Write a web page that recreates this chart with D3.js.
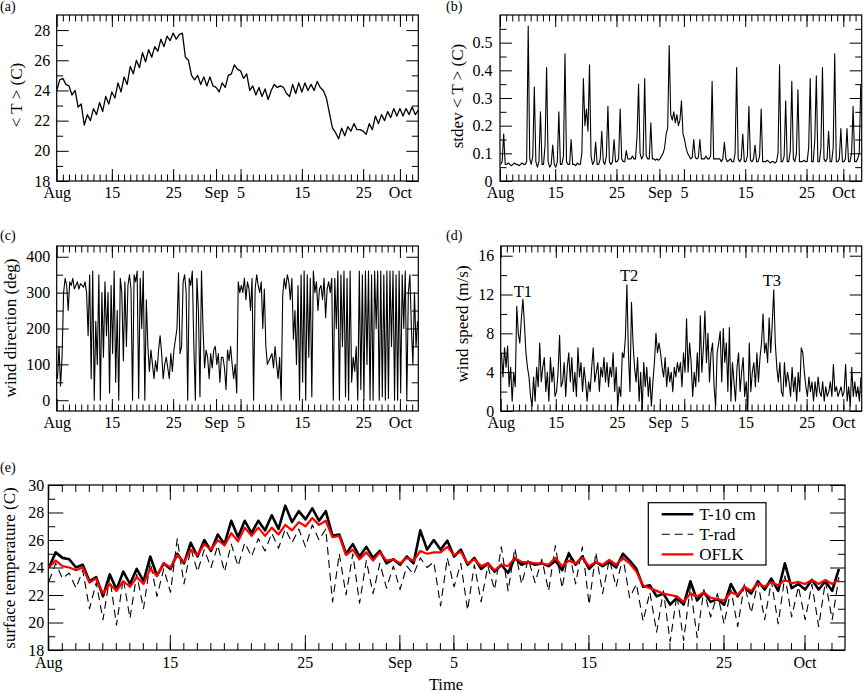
<!DOCTYPE html>
<html><head><meta charset="utf-8">
<script src="https://cdn.jsdelivr.net/npm/d3@7/dist/d3.min.js"></script>
<style>
body{margin:0;background:#fff;}
svg text{font-family:"Liberation Serif","Times New Roman",serif;}
</style></head><body>
<svg id="chart" width="863" height="693"></svg>
<script>
// ---------------- DATA ----------------
const seriesStart = "2005-08-06";       // first sample day (left edge of the time axis)
const seriesEnd   = "2005-10-04";       // right edge of the time axis
const xTickDates  = ["2005-08-06","2005-08-15","2005-08-25","2005-09-01","2005-09-05","2005-09-15","2005-09-25","2005-10-01"];
const xTickLabels = ["Aug","15","25","Sep","5","15","25","Oct"];

// (a) mean soil temperature <T>, every 12 h from the start
const meanT = [
24.0,24.7,24.8,24.4,24.3,23.7,24.0,22.9,23.1,21.7,
22.4,22.0,22.8,22.4,23.2,22.6,23.6,23.1,23.9,23.5,
24.5,23.9,24.9,24.4,25.6,25.1,26.0,25.5,26.5,25.9,
26.7,26.2,26.9,26.6,27.4,26.9,27.6,27.3,27.8,27.4,
27.7,27.8,26.2,26.0,25.0,24.7,25.0,24.4,24.9,24.3,
24.9,24.3,24.2,23.9,24.5,24.2,25.0,25.1,25.7,25.4,
25.3,24.8,25.1,24.0,24.3,23.7,24.2,23.6,24.1,23.4,
24.0,24.4,24.2,24.3,24.2,23.8,23.6,24.4,23.8,24.5,
23.9,24.5,24.0,24.4,24.0,24.6,24.2,24.0,23.5,22.5,
21.5,21.2,20.8,21.5,21.0,21.6,21.3,21.8,21.4,21.4,
21.3,21.1,21.8,21.4,22.3,21.8,22.4,22.0,22.6,22.2,
22.8,22.3,22.8,22.3,22.8,22.4,22.9,22.4,22.7];

// (b) stdev of <T>, 4 samples per day (day+0.1, +0.35, +0.6, +0.85)
const stdevT = [
.06,.07,.17,.06,  .06,.065,.06,.055, .06,.065,.06,.06, .055,.06,.065,.06,
.06,.07,.56,.08,  .06,.09,.34,.07,   .05,.07,.25,.06,  .06,.13,.41,.07,
.05,.06,.13,.06,  .05,.07,.25,.06,   .06,.09,.46,.07,  .06,.06,.15,.06,
.06,.055,.065,.06,.06,.1,.37,.2,     .26,.18,.42,.09,  .06,.07,.14,.06,
.06,.08,.18,.07,  .06,.09,.27,.07,   .06,.07,.15,.07,  .07,.08,.26,.08,
.07,.07,.11,.08,  .08,.08,.09,.08,   .08,.16,.35,.1,   .08,.09,.37,.09,
.08,.08,.21,.08,  .08,.075,.08,.075, .08,.09,.1,.12,   .17,.19,.49,.24,
.22,.25,.21,.24,  .2,.22,.29,.17,    .15,.12,.1,.09,   .08,.085,.15,.085,
.08,.085,.15,.08, .08,.08,.09,.08,   .08,.09,.36,.08,  .08,.08,.08,.08,
.07,.08,.14,.08,  .07,.075,.08,.07,  .07,.1,.41,.08,   .07,.08,.17,.07,
.07,.09,.27,.075, .07,.08,.13,.07,   .07,.09,.26,.07,  .07,.07,.075,.07,
.065,.07,.07,.065,.07,.1,.42,.07,    .07,.09,.29,.07,  .07,.11,.36,.08,
.07,.1,.33,.07,   .07,.07,.075,.07,  .07,.12,.37,.07,  .07,.15,.38,.07,
.07,.12,.41,.08,  .07,.08,.18,.07,   .07,.12,.46,.07,  .07,.08,.19,.07,
.07,.08,.19,.07,  .07,.1,.27,.07,    .07,.08,.1,.35];

// (c) wind direction (deg), 4 samples per day (day+0.125 ...)
const windDir = [
60,150,40,120,   300,340,320,250, 330,320,340,310, 320,330,310,325,
320,315,330,300, 180,350,60,360,  0,220,100,350,   0,300,120,330,
180,300,20,320,  130,360,50,250,  0,340,300,110,   330,150,320,350,
310,0,350,330,   360,5,340,200,   360,0,280,150,   80,140,100,60,
110,80,140,180,  130,60,100,120,  90,60,130,80,    140,170,200,355,
130,150,330,350, 300,0,340,320,   360,150,0,340,   250,10,360,200,
90,140,120,60,   130,90,140,150,  100,130,50,120,  120,90,30,140,
110,150,100,60,  100,20,330,300,  320,300,340,280, 330,310,250,340,
0,310,350,320,   300,330,200,310, 150,100,110,120, 130,90,150,100,
60,120,0,290,    340,310,350,330, 280,340,170,250, 100,320,0,350,
50,360,0,350,    120,340,10,360,  300,330,250,310, 320,280,340,230,
310,330,300,340, 0,340,200,360,   0,350,150,360,   10,340,0,360,
50,120,80,150,   0,360,30,350,    0,360,100,360,   0,350,0,360,
200,360,0,360,   10,350,0,360,    5,360,150,360,   0,350,0,360,
20,350,200,360,  0,300,350,200,   100,300,150,220];

// (d) wind speed (m/s), 4 samples per day (day+0.125 ...)
const windSpd = [
6,3.5,6.5,4.5,   6.7,2.5,4.5,1,   4,2.5,10.8,8,    7,9.5,11.5,9,
6,4.5,3.5,1.5,   0.5,3.5,1,4.5,   2.5,7,3,4.5,     5.5,2,4,1,
5.5,3,4.5,1.5,   2,4,7.8,2.5,     3,5,1.5,4.5,     6,3,5.5,2,
4,1.5,6.5,3.5,   5,2,4.5,3,       1,3,2,4.5,       6.5,3,4,5,
2,4.5,3.5,5.5,   3,5,2.5,4.5,     3.5,6,2,4.5,     0.5,2.5,1.5,6,
5.5,7.5,13,6,    2,11.2,7,4.5,    3,5.5,1,4,       0,5,2.5,4.5,
1.5,3.5,0.5,3,   5,8,6,7,         6,4.5,3.5,5.5,   2.5,4.5,3,4,
2,4.5,3.5,5,     4,5,2.5,6,       4,9.5,4,7,       5,1.5,4,2.5,
6,3,9.8,4,       6.5,10.3,5,8,    3,6,7,2.5,       0.5,6,7,8.2,
3,8.5,5,7,       2,8.6,1,5,       3,1,4.5,6,       2,4,5.5,1.5,
3,0,7,2,         4,5,2.5,6,       3,5.5,7,10,      6,7,5,9.6,
6,9,12.5,7,      4.5,3,5,2,       1.5,5,2.5,4,     3,1.5,4.5,2,
3.5,1,4,2,       6.5,6,4,2.5,     1.5,3.5,2,3,     1,3,1.5,3.5,
2,1.5,3,1,       2.5,1.5,2,3,     1.5,4.8,2,2.5,   1.5,2,2.5,1.5,
2,4.8,1,2.5,     0.5,4.5,1.5,3,   1.5,2.5,1,3.5];
const stormNames = ["T1","T2","T3"];
const stormDates = ["2005-08-09T15:00","2005-08-27T00:00","2005-09-19T08:00"];
const stormLabelSpeed = [11.75,13.4,12.9];

// (e) surface temperatures, 2 samples per day (day+0.05, day+0.55)
const t10cm = [
24.0,25.1, 24.7,24.6, 24.0,24.2, 23.0,23.3, 21.9,23.5, 22.4,23.7, 22.8,23.9, 23.0,24.8,
23.4,24.3, 23.9,25.0, 24.3,25.8, 24.8,26.0, 25.2,26.4, 25.7,27.4, 26.2,27.4, 26.5,27.4,
26.7,27.8, 26.8,28.5, 27.3,28.1, 27.5,28.3, 27.4,28.1, 26.3,26.4, 25.0,25.7, 24.8,25.5,
24.7,25.2, 24.3,24.6, 24.2,24.8, 24.3,26.7, 25.3,26.0, 25.3,25.95,24.8,25.3, 24.2,24.7,
23.9,24.3, 23.7,24.2, 23.6,24.7, 24.2,24.4, 24.2,24.3, 24.1,24.5, 23.8,25.0, 24.2,24.8,
23.9,24.4, 24.1,24.4, 24.0,25.0, 24.5,23.9, 22.6,22.7, 21.9,22.1, 21.3,21.8, 21.3,23.0,
21.6,22.2, 21.5,21.7, 21.3,22.8, 21.9,22.6, 22.1,23.0, 22.4,23.2, 22.3,24.3, 22.5,22.8,
22.4,23.1, 22.4,23.0, 22.3,23.9];
const tRad = [
23.0,24.3, 23.2,23.6, 22.5,23.8, 21.0,22.9, 20.2,23.3, 19.8,23.2, 20.3,23.5, 21.0,24.4,
21.9,23.9, 22.2,26.1, 22.8,25.4, 23.7,25.3, 24.0,25.6, 23.7,25.7, 24.1,25.8, 24.8,26.1,
25.2,26.5, 25.4,26.8, 25.8,26.8, 25.5,27.1, 26.0,26.8, 21.5,25.0, 22.0,25.0, 21.4,24.5,
22.1,24.3, 22.5,24.1, 22.4,24.1, 23.5,24.7, 24.0,24.4, 21.2,24.7, 22.6,24.3, 20.9,24.2,
21.5,24.1, 22.4,25.5, 22.3,25.4, 22.8,24.6, 22.9,24.6, 22.3,25.6, 22.5,25.3, 22.8,25.5,
21.3,25.1, 22.1,24.6, 22.6,24.8, 21.8,22.8, 20.1,22.2, 19.3,22.3, 18.6,22.0, 18.7,22.6,
18.9,22.4, 20.4,22.1, 19.9,22.4, 19.7,22.8, 20.7,22.9, 20.2,23.0, 19.9,23.4, 20.4,22.6,
20.2,22.8, 19.7,23.0, 20.2,23.3];
const oflk = [
24.0,24.5, 24.1,24.0, 23.8,24.0, 22.9,23.2, 22.1,22.8, 22.3,23.0, 22.6,23.3, 22.8,23.9,
23.4,24.3, 24.0,24.9, 24.4,25.3, 24.9,25.7, 25.3,26.0, 25.6,26.5, 25.9,26.9, 26.3,26.9,
26.3,26.9, 26.4,27.1, 26.7,27.3, 27.0,27.6, 27.1,27.4, 26.2,26.3, 24.9,25.3, 24.6,25.1,
24.5,25.1, 24.5,24.6, 24.3,24.7, 24.5,25.2, 25.0,25.1, 25.1,25.5, 24.9,25.15,24.3,24.6,
24.1,24.3, 23.8,24.2, 24.1,24.7, 24.4,24.4, 24.3,24.3, 24.2,24.7, 24.1,24.5, 24.3,24.7,
24.1,24.4, 24.2,24.55,24.2,24.7, 24.3,23.7, 22.7,22.5, 22.3,22.1, 22.0,21.9, 21.5,22.1,
21.9,22.2, 21.8,21.7, 21.6,22.2, 22.0,22.6, 22.3,22.85,22.6,22.95,22.7,23.1, 22.85,22.95,
22.8,23.1, 22.8,23.1, 22.8,23.1];
const legendNames = ["T-10 cm","T-rad","OFLK"];

// ---------------- DRAWING ----------------
const FONT = "Liberation Serif, Times New Roman, serif";
const DAY = 86400000;
const parseD = d3.utcParse("%Y-%m-%d");
const parseT = d3.utcParse("%Y-%m-%dT%H:%M");
const t0 = parseD(seriesStart), t1 = parseD(seriesEnd);
const majorDates = xTickDates.map(parseD);
const minorDates = d3.utcDay.range(d3.utcDay.offset(t0,1), t1);

function toSeries(vals, offsetDays, perDay) {
  return vals.map((v,i) => ({t: new Date(+t0 + (offsetDays + i/perDay)*DAY), v}));
}

const svg = d3.select("#chart");
let clipId = 0;

function panel(p) {
  const g = svg.append("g");
  const x = d3.scaleUtc().domain([t0,t1]).range([p.l, p.r]);
  const y = d3.scaleLinear().domain(p.yDomain).range([p.b, p.t]);
  const cid = "clip" + (clipId++);
  g.append("clipPath").attr("id",cid).append("rect")
    .attr("x",p.l).attr("y",p.t).attr("width",p.r-p.l).attr("height",p.b-p.t);
  const line = d3.line().x(d=>x(d.t)).y(d=>y(d.v));
  p.series.forEach(s => {
    g.append("path").datum(s.data).attr("clip-path",`url(#${cid})`)
      .attr("d",line).attr("fill","none").attr("stroke",s.color)
      .attr("stroke-width",s.width).attr("stroke-linejoin","round")
      .attr("stroke-dasharray",s.dash || null);
  });
  const ax = (gen, tr) => {
    const a = g.append("g").attr("transform",tr).call(gen);
    a.select(".domain").remove();
    a.attr("font-family",FONT).attr("font-size",16);
    a.selectAll("text").attr("fill","#000");
    return a;
  };
  // bottom
  ax(d3.axisBottom(x).tickValues(minorDates).tickSize(-p.minor).tickFormat(""), `translate(0,${p.b})`);
  ax(d3.axisBottom(x).tickValues(majorDates).tickSize(-p.major).tickPadding(p.xPad)
      .tickFormat((d,i)=>xTickLabels[i]), `translate(0,${p.b})`);
  // top
  ax(d3.axisTop(x).tickValues(minorDates).tickSize(-p.minor).tickFormat(""), `translate(0,${p.t})`);
  ax(d3.axisTop(x).tickValues(majorDates).tickSize(-p.major).tickFormat(""), `translate(0,${p.t})`);
  // left
  ax(d3.axisLeft(y).tickValues(p.yMinor).tickSize(-p.minor).tickFormat(""), `translate(${p.l},0)`);
  ax(d3.axisLeft(y).tickValues(p.yMajor).tickSize(-p.major).tickPadding(p.yPad)
      .tickFormat(d3.format("~g")), `translate(${p.l},0)`);
  // right
  ax(d3.axisRight(y).tickValues(p.yMinor).tickSize(-p.minor).tickFormat(""), `translate(${p.r},0)`);
  ax(d3.axisRight(y).tickValues(p.yMajor).tickSize(-p.major).tickFormat(""), `translate(${p.r},0)`);
  // frame
  g.append("rect").attr("x",p.l).attr("y",p.t).attr("width",p.r-p.l).attr("height",p.b-p.t)
    .attr("fill","none").attr("stroke","#000").attr("stroke-width",1.2);
  // y title
  g.append("text").attr("transform",`translate(${p.titleX},${p.titleY}) rotate(-90)`)
    .attr("text-anchor","middle").attr("font-size",17).text(p.title);
  // panel letter
  g.append("text").attr("x",p.letterX).attr("y",p.letterY).attr("font-size",14).text(p.letter);
  return {g,x,y};
}

const k = "#000";
panel({l:56.7,r:418.3,t:15,b:181, yDomain:[18,29], yMajor:[18,20,22,24,26,28], yMinor:[19,21,23,25,27],
  major:12, minor:6.5, xPad:6, yPad:6.5, title:"< T > (C)", titleX:22, titleY:95, letter:"(a)", letterX:0, letterY:11,
  series:[{data:toSeries(meanT,0,2), color:k, width:1.3}]});

panel({l:500,r:861.7,t:15,b:181, yDomain:[0,0.6], yMajor:[0,0.1,0.2,0.3,0.4,0.5], yMinor:[0.05,0.15,0.25,0.35,0.45,0.55],
  major:12, minor:6.5, xPad:6, yPad:7.5, title:"stdev < T > (C)", titleX:463, titleY:96, letter:"(b)", letterX:446, letterY:11,
  series:[{data:toSeries(stdevT,0.1,4), color:k, width:1.1}]});

panel({l:56.7,r:418.3,t:246,b:411, yDomain:[-30,430], yMajor:[0,100,200,300,400], yMinor:[50,150,250,350],
  major:12, minor:6.5, xPad:6, yPad:6.5, title:"wind direction (deg)", titleX:16, titleY:328, letter:"(c)", letterX:0, letterY:240,
  series:[{data:toSeries(windDir,0.125,4), color:k, width:1.1}]});

const pd = panel({l:500.7,r:861.7,t:246,b:411, yDomain:[0,17], yMajor:[0,4,8,12,16], yMinor:[2,6,10,14],
  major:12, minor:6.5, xPad:6, yPad:6.5, title:"wind speed (m/s)", titleX:468, titleY:324, letter:"(d)", letterX:446, letterY:240,
  series:[{data:toSeries(windSpd,0.125,4), color:k, width:1.1}]});
pd.g.selectAll(".storm").data(stormNames).join("text").attr("class","storm")
  .attr("x",(d,i)=>pd.x(parseT(stormDates[i]))).attr("y",(d,i)=>pd.y(stormLabelSpeed[i]))
  .attr("text-anchor","middle").attr("font-size",16.5).text(d=>d);

const eSeries = [
  {data:toSeries(t10cm,0.05,2), color:k, width:2.6},
  {data:toSeries(tRad,0.05,2), color:k, width:1.1, dash:"8,5"},
  {data:toSeries(oflk,0.05,2), color:"#ff0000", width:2.2}
];
const pe = panel({l:48.3,r:845,t:485,b:650, yDomain:[18,30], yMajor:[18,20,22,24,26,28,30], yMinor:[19,21,23,25,27,29],
  major:15, minor:7, xPad:6.5, yPad:4, title:"surface temperature (C)", titleX:15, titleY:568, letter:"(e)", letterX:0, letterY:472,
  series:eSeries});
svg.append("text").attr("x",446).attr("y",690).attr("text-anchor","middle").attr("font-size",16.5).text("Time");

// legend
const lg = svg.append("g").attr("transform","translate(648.3,502.7)");
lg.append("rect").attr("width",117.7).attr("height",62.3).attr("fill","#fff").attr("stroke","#000").attr("stroke-width",1.2);
legendNames.forEach((name,i) => {
  const yy = 11.6 + i*20;
  lg.append("line").attr("x1",13.4).attr("x2",45).attr("y1",yy).attr("y2",yy)
    .attr("stroke",eSeries[i].color).attr("stroke-width",eSeries[i].width)
    .attr("stroke-dasharray",eSeries[i].dash || null);
  lg.append("text").attr("x",51).attr("y",yy+5.5).attr("font-size",17).text(name);
});
</script>
</body></html>
